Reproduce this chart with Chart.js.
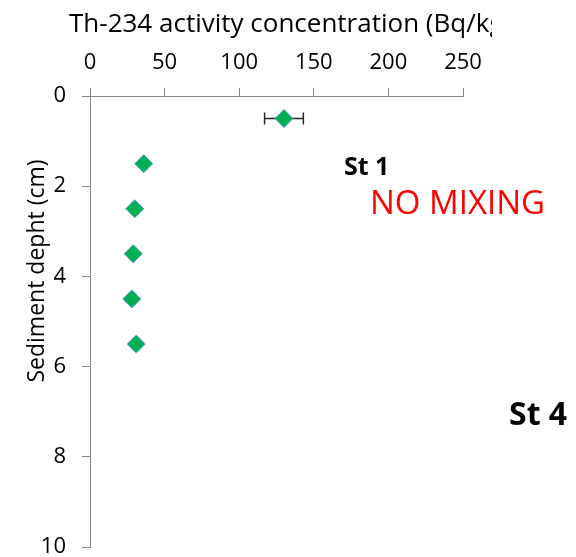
<!DOCTYPE html>
<html>
<head>
<meta charset="utf-8">
<script src="https://cdn.jsdelivr.net/npm/chart.js@4.4.1/dist/chart.umd.min.js"></script>
<style>
  html, body { margin: 0; padding: 0; background: #fff; }
  #wrap { width: 576px; height: 557px; }
</style>
</head>
<body>
<div id="wrap"><canvas id="depthChart"></canvas></div>
<script>
// sediment depth (cm) and Th-234 activity (Bq/kg)
const depths = [0.5, 1.5, 2.5, 3.5, 4.5, 5.5];
const activity = [130, 36, 30, 29, 28, 31];
const activityErr = [13, 2, 2, 2, 2, 2];

const xTickValues = [0, 50, 100, 150, 200, 250];
const yTickValues = [0, 2, 4, 6, 8, 10];

const xTitle = 'Th-234 activity concentration (Bq/kg)';
const yTitle = 'Sediment depht (cm)';
const notes = ['St 1', 'NO MIXING', 'St 4'];

const FONT = "'Open Sans', 'DejaVu Sans', sans-serif";
const AXIS_GREY = '#868686';

const errorBars = {
    id: 'errorBars',
    beforeDatasetsDraw(chart) {
        const { ctx, scales: { x, y } } = chart;
        ctx.save();
        ctx.strokeStyle = '#262626';
        ctx.lineWidth = 1.5;
        activity.forEach((v, i) => {
            const py = y.getPixelForValue(depths[i]);
            const x0 = x.getPixelForValue(v - activityErr[i]);
            const x1 = x.getPixelForValue(v + activityErr[i]);
            ctx.beginPath();
            ctx.moveTo(x0, py); ctx.lineTo(x1, py);
            ctx.moveTo(x0, py - 6); ctx.lineTo(x0, py + 6);
            ctx.moveTo(x1, py - 6); ctx.lineTo(x1, py + 6);
            ctx.stroke();
        });
        ctx.restore();
    }
};

const labels = {
    id: 'labels',
    afterDraw(chart) {
        const ctx = chart.ctx;
        ctx.save();
        ctx.textAlign = 'left';
        ctx.textBaseline = 'alphabetic';
        ctx.fillStyle = '#000';

        // axis title is cut off at the right, as in the source figure
        ctx.save();
        ctx.beginPath();
        ctx.rect(0, 0, 492, 60);
        ctx.clip();
        ctx.font = '26px ' + FONT;
        ctx.fillText(xTitle, 69, 32);
        ctx.restore();

        ctx.save();
        ctx.translate(44, 271);
        ctx.rotate(-Math.PI / 2);
        ctx.textAlign = 'center';
        ctx.font = '23px ' + FONT;
        ctx.fillText(yTitle, 0, 0);
        ctx.restore();

        ctx.font = 'bold 25px ' + FONT;
        ctx.fillText(notes[0], 344, 175);
        ctx.fillStyle = '#ff0000';
        ctx.font = '33px ' + FONT;
        ctx.fillText(notes[1], 370, 214);
        ctx.fillStyle = '#000';
        ctx.font = 'bold 32px ' + FONT;
        ctx.fillText(notes[2], 509, 425);
        ctx.restore();
    }
};

const ctx = document.getElementById('depthChart').getContext('2d');

new Chart(ctx, {
    type: 'scatter',
    data: {
        datasets: [{
            data: depths.map((d, i) => ({ x: activity[i], y: d })),
            pointStyle: 'rectRot',
            pointRadius: 9,
            pointHoverRadius: 9,
            backgroundColor: '#00B050',
            borderColor: '#5B9BD5',
            borderWidth: 1,
            showLine: false
        }]
    },
    options: {
        responsive: true,
        maintainAspectRatio: false,
        animation: false,
        layout: {
            padding: { left: 0, top: 0, right: 113, bottom: 10 }
        },
        plugins: {
            legend: { display: false },
            tooltip: { enabled: false }
        },
        scales: {
            x: {
                type: 'linear',
                position: 'top',
                min: 0,
                max: 250,
                afterBuildTicks: s => { s.ticks = xTickValues.map(v => ({ value: v })); },
                afterFit: s => { s.height = 96; s.paddingLeft = 0; s.paddingRight = 0; },
                ticks: {
                    color: '#000',
                    padding: 12,
                    font: { family: FONT, size: 22 }
                },
                grid: {
                    drawOnChartArea: false,
                    tickLength: 8,
                    color: AXIS_GREY
                },
                border: { color: AXIS_GREY, width: 1 }
            },
            y: {
                type: 'linear',
                reverse: true,
                min: 0,
                max: 10,
                afterBuildTicks: s => { s.ticks = yTickValues.map(v => ({ value: v })); },
                afterFit: s => { s.width = 90; s.paddingTop = 0; s.paddingBottom = 0; },
                ticks: {
                    color: '#000',
                    padding: 16,
                    font: { family: FONT, size: 22 }
                },
                grid: {
                    drawOnChartArea: false,
                    tickLength: 8,
                    color: AXIS_GREY
                },
                border: { color: AXIS_GREY, width: 1 }
            }
        }
    },
    plugins: [errorBars, labels]
});
</script>
</body>
</html>
